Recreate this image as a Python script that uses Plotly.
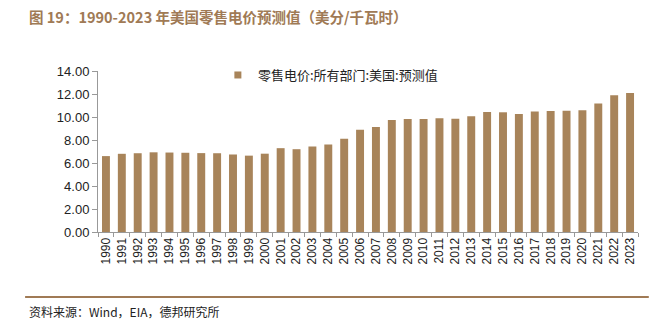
import plotly.graph_objects as go

years = [str(y) for y in range(1990, 2024)]
prices = [6.60, 6.80, 6.85, 6.93, 6.91, 6.89, 6.86, 6.85, 6.74, 6.64,
          6.81, 7.29, 7.20, 7.44, 7.61, 8.10, 8.90, 9.13, 9.74, 9.82,
          9.83, 9.90, 9.84, 10.07, 10.44, 10.41, 10.27, 10.48, 10.53, 10.54,
          10.59, 11.18, 11.90, 12.08]
yticks = [0, 2, 4, 6, 8, 10, 12, 14]
ytick_text = ["%.2f" % v for v in yticks]

series_name = "零售电价:所有部门:美国:预测值"
title_text = "图 19：1990-2023 年美国零售电价预测值（美分/千瓦时）"
source_text = "资料来源：Wind，EIA，德邦研究所"

bar_color = "#a8845a"
brown = "#a07a55"

fig = go.Figure()
fig.add_trace(go.Bar(x=years, y=prices, name=series_name, showlegend=False,
                     marker=dict(color=bar_color, line=dict(width=0)),
                     width=0.5))
# legend entry with a small square symbol
fig.add_trace(go.Scatter(x=[None], y=[None], mode="markers", name=series_name,
                         marker=dict(symbol="square", size=7, color=bar_color),
                         showlegend=True))

fig.update_layout(
    width=662, height=334,
    margin=dict(l=98, r=24, t=71, b=102),
    paper_bgcolor="white", plot_bgcolor="white",
    showlegend=True,
    legend=dict(x=0.222, y=0.975, xanchor="left", yanchor="middle",
                font=dict(family="Noto Sans CJK SC", size=13, color="#222"),
                bgcolor="rgba(0,0,0,0)", itemwidth=30),
    font=dict(family="Liberation Sans, Arial", size=12, color="#222"),
    bargap=0.5,
)
fig.update_xaxes(type="category", tickangle=-90, showline=True, linecolor="#999",
                 ticks="outside", tickson="boundaries", ticklen=4, tickcolor="#999",
                 showgrid=False, tickfont=dict(family="Liberation Sans", size=12, color="#222"))
fig.update_yaxes(range=[0, 14], tickvals=yticks, ticktext=ytick_text,
                 showline=True, linecolor="#999", ticks="outside", ticklen=5,
                 tickcolor="#999", showgrid=False, zeroline=False,
                 tickfont=dict(family="Liberation Sans", size=13, color="#222"))

fig.add_annotation(text="<b>" + title_text + "</b>", xref="paper", yref="paper",
                   x=-0.131, y=1.339, xanchor="left", yanchor="middle", showarrow=False,
                   font=dict(family="Noto Sans CJK SC", size=14.5, color=brown))
fig.add_annotation(text=source_text, xref="paper", yref="paper",
                   x=-0.131, y=-0.496, xanchor="left", yanchor="middle", showarrow=False,
                   font=dict(family="Noto Sans CJK SC", size=12, color="#222"))
fig.add_shape(type="line", xref="paper", yref="paper", x0=-0.135, x1=1.02,
              y0=-0.403, y1=-0.403, line=dict(color=brown, width=2))

fig.write_html("out.html")
